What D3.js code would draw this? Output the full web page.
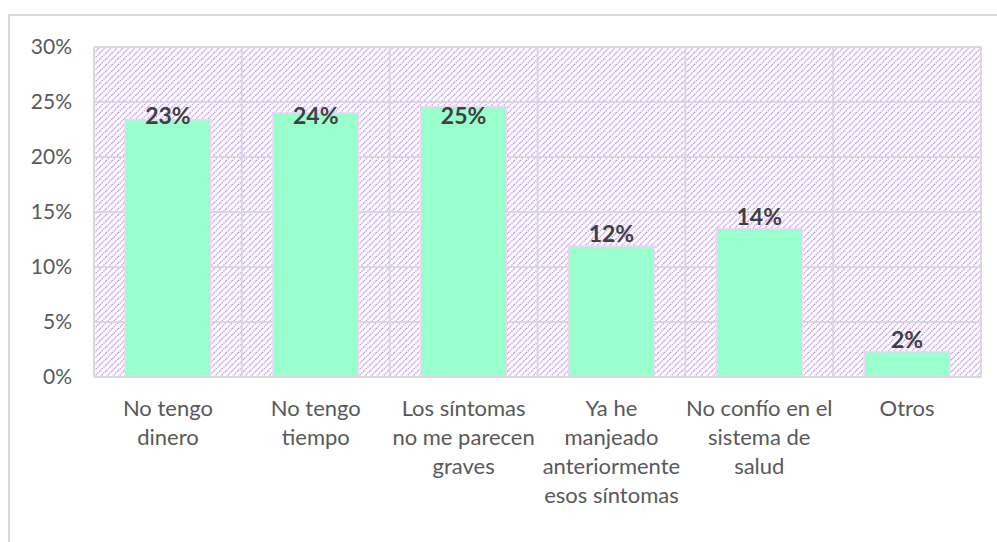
<!DOCTYPE html>
<html>
<head>
<meta charset="utf-8">
<script src="https://cdn.jsdelivr.net/npm/d3@7"></script>
<style>
  body { margin: 0; background: #fff; }
  svg { display: block; font-family: Lato, "Noto Sans", sans-serif; }
</style>
</head>
<body>
<svg width="997" height="542"></svg>
<script>
// data
var categories = [
  ["No tengo", "dinero"],
  ["No tengo", "tiempo"],
  ["Los síntomas", "no me parecen", "graves"],
  ["Ya he", "manjeado", "anteriormente", "esos síntomas"],
  ["No confío en el", "sistema de", "salud"],
  ["Otros"]
];
var values = [0.234, 0.24, 0.246, 0.119, 0.135, 0.023];
var yTicks = [0, 0.05, 0.10, 0.15, 0.20, 0.25, 0.30];

var svg = d3.select("svg"),
    width = +svg.attr("width"),
    height = +svg.attr("height");

var margin = {top: 47, right: 16, bottom: 165, left: 94};
var plotW = width - margin.left - margin.right,
    plotH = height - margin.top - margin.bottom;

var grid = "#d9d9d9";

// chart frame
svg.append("rect")
    .attr("x", 9).attr("y", 15)
    .attr("width", width + 20).attr("height", height + 20)
    .attr("fill", "none")
    .attr("stroke", grid)
    .attr("stroke-width", 2);

// hatch pattern for the plot area
var pat = svg.append("defs").append("pattern")
    .attr("id", "hatch")
    .attr("patternUnits", "userSpaceOnUse")
    .attr("width", 6).attr("height", 6);
pat.append("rect").attr("width", 6).attr("height", 6).attr("fill", "#fff");
pat.append("path")
    .attr("d", "M-1,1 l2,-2 M0,6 l6,-6 M5,7 l2,-2")
    .attr("stroke", "#c7a0f4")
    .attr("stroke-width", 1.4)
    .attr("stroke-dasharray", "1.6,0.8");

var g = svg.append("g")
    .attr("transform", "translate(" + margin.left + "," + margin.top + ")");

var x = d3.scaleBand()
    .domain(d3.range(categories.length))
    .range([0, plotW])
    .paddingInner(0.42)
    .paddingOuter(0.21);

var xCat = d3.scaleBand()
    .domain(d3.range(categories.length))
    .range([0, plotW]);

var y = d3.scaleLinear()
    .domain([0, 0.30])
    .range([plotH, 0]);

g.append("rect")
    .attr("width", plotW)
    .attr("height", plotH)
    .attr("fill", "url(#hatch)");

// horizontal gridlines
g.append("g")
  .selectAll("line")
  .data(yTicks)
  .enter().append("line")
    .attr("x1", 0).attr("x2", plotW)
    .attr("y1", function(d) { return y(d); })
    .attr("y2", function(d) { return y(d); })
    .attr("stroke", grid)
    .attr("stroke-width", 2);

// vertical gridlines at category boundaries
g.append("g")
  .selectAll("line")
  .data(d3.range(categories.length + 1))
  .enter().append("line")
    .attr("x1", function(i) { return i * xCat.step(); })
    .attr("x2", function(i) { return i * xCat.step(); })
    .attr("y1", 0).attr("y2", plotH)
    .attr("stroke", grid)
    .attr("stroke-width", 2);

// bars
g.append("g")
  .selectAll("rect")
  .data(values)
  .enter().append("rect")
    .attr("x", function(d, i) { return x(i); })
    .attr("y", function(d) { return y(d); })
    .attr("width", x.bandwidth())
    .attr("height", function(d) { return plotH - y(d); })
    .attr("fill", "#99ffcc")
    .attr("stroke", "#f5d2f5")
    .attr("stroke-width", 1.5);

// axis line at zero
g.append("line")
    .attr("x1", 0).attr("x2", plotW)
    .attr("y1", plotH).attr("y2", plotH)
    .attr("stroke", grid)
    .attr("stroke-width", 2);

// data labels
g.append("g")
  .selectAll("text")
  .data(values)
  .enter().append("text")
    .attr("x", function(d, i) { return x(i) + x.bandwidth() / 2; })
    .attr("y", function(d) { return Math.max(y(d) - 4, y(0.23)); })
    .attr("text-anchor", "middle")
    .attr("font-size", 23)
    .attr("font-weight", "bold")
    .attr("fill", "#404040")
    .text(function(d) { return d3.format(".0%")(d); });

// y axis labels
var yAxis = d3.axisLeft(y)
    .tickValues(yTicks)
    .tickFormat(d3.format(".0%"))
    .tickSize(0)
    .tickPadding(22);

g.append("g")
    .call(yAxis)
    .call(function(s) { s.select(".domain").remove(); })
    .selectAll("text")
      .attr("font-family", "Lato, 'Noto Sans', sans-serif")
      .attr("font-size", 21)
      .attr("fill", "#595959");

// category labels
var cat = g.append("g")
  .selectAll("text")
  .data(categories)
  .enter().append("text")
    .attr("text-anchor", "middle")
    .attr("font-size", 22)
    .attr("fill", "#595959")
    .attr("transform", function(d, i) {
      return "translate(" + (xCat(i) + xCat.bandwidth() / 2) + "," + (plotH + 39) + ")";
    });

cat.selectAll("tspan")
  .data(function(d) { return d; })
  .enter().append("tspan")
    .attr("x", 0)
    .attr("dy", function(d, i) { return i === 0 ? 0 : 29; })
    .text(function(d) { return d; });
</script>
</body>
</html>
